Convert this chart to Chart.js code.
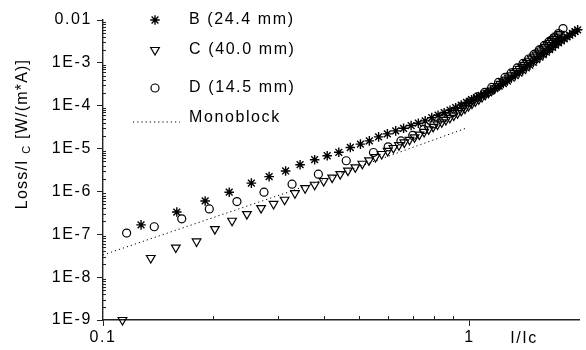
<!DOCTYPE html>
<html>
<head>
<meta charset="utf-8">
<script src="https://cdn.jsdelivr.net/npm/chart.js"></script>
<style>
  html, body { margin: 0; padding: 0; background: #fff; }
  #wrap { width: 586px; height: 350px; }
</style>
</head>
<body>
<div id="wrap"><canvas id="lossChart" width="586" height="350"></canvas></div>
<script>
// sample B (24.4 mm)
const bX = [0.127, 0.159, 0.190, 0.221, 0.254, 0.284, 0.315, 0.345, 0.378, 0.409, 0.440, 0.473, 0.504, 0.533,
  0.565, 0.597, 0.629, 0.661, 0.693, 0.725, 0.757, 0.789, 0.821, 0.853, 0.885, 0.917, 0.949, 0.981, 1.013,
  1.045, 1.077, 1.109, 1.141, 1.173, 1.205, 1.237, 1.269, 1.301, 1.333, 1.365, 1.397, 1.429, 1.461, 1.493,
  1.525, 1.557, 1.589, 1.621, 1.653, 1.685, 1.717, 1.749, 1.781, 1.813, 1.845, 1.877, 1.909, 1.941, 1.973];
const bY = [1.66e-7, 3.3e-7, 6.0e-7, 9.6e-7, 1.56e-6, 2.22e-6, 3.0e-6, 4.2e-6, 5.5e-6, 6.8e-6, 8.2e-6, 1.06e-5, 1.27e-5, 1.51e-5,
  1.87e-5, 2.20e-5, 2.59e-5, 2.97e-5, 3.45e-5, 3.91e-5, 4.43e-5, 5.28e-5, 6.01e-5, 6.87e-5, 7.85e-5, 8.98e-5, 1.03e-4, 1.19e-4, 1.38e-4,
  1.55e-4, 1.75e-4, 1.95e-4, 2.18e-4, 2.49e-4, 2.86e-4, 3.29e-4, 3.77e-4, 4.38e-4, 5.04e-4, 5.78e-4, 6.58e-4, 7.64e-4, 8.83e-4, 1.03e-3,
  1.19e-3, 1.36e-3, 1.56e-3, 1.77e-3, 2.03e-3, 2.30e-3, 2.60e-3, 2.94e-3, 3.27e-3, 3.62e-3, 4.02e-3, 4.43e-3, 4.90e-3, 5.37e-3, 5.91e-3];

// sample C (40.0 mm)
const cX = [0.113, 0.135, 0.158, 0.180, 0.202, 0.225, 0.247, 0.270, 0.292, 0.313, 0.334,
  0.356, 0.378, 0.400, 0.422, 0.444, 0.466, 0.488, 0.510, 0.532, 0.554, 0.576, 0.598, 0.620, 0.642, 0.664,
  0.686, 0.708, 0.730, 0.752, 0.774, 0.796, 0.818, 0.840, 0.862, 0.884, 0.906, 0.928, 0.950, 0.972, 0.994,
  1.016, 1.038, 1.060, 1.082, 1.104, 1.126, 1.148, 1.170, 1.192, 1.214, 1.236, 1.258, 1.280, 1.302, 1.324,
  1.346, 1.368, 1.390, 1.412, 1.434, 1.456, 1.478, 1.500, 1.522, 1.544, 1.566, 1.588, 1.610, 1.632, 1.654,
  1.676, 1.698, 1.720, 1.742, 1.764];
const cY = [1.0e-9, 2.8e-8, 4.9e-8, 6.8e-8, 1.32e-7, 2.07e-7, 2.96e-7, 4.08e-7, 5.1e-7, 6.4e-7, 9.1e-7,
  1.19e-6, 1.43e-6, 1.75e-6, 2.10e-6, 2.53e-6, 3.05e-6, 3.66e-6, 4.43e-6, 5.31e-6, 6.34e-6, 7.48e-6, 8.79e-6, 1.03e-5, 1.20e-5, 1.39e-5,
  1.60e-5, 1.83e-5, 2.12e-5, 2.44e-5, 2.80e-5, 3.21e-5, 3.65e-5, 4.10e-5, 4.65e-5, 5.22e-5, 5.91e-5, 6.68e-5, 7.57e-5, 8.55e-5, 9.79e-5,
  1.12e-4, 1.26e-4, 1.42e-4, 1.60e-4, 1.79e-4, 2.00e-4, 2.24e-4, 2.53e-4, 2.86e-4, 3.22e-4, 3.62e-4, 4.06e-4, 4.54e-4, 5.12e-4, 5.73e-4,
  6.44e-4, 7.21e-4, 8.07e-4, 8.97e-4, 1.00e-3, 1.12e-3, 1.26e-3, 1.40e-3, 1.56e-3, 1.74e-3, 1.94e-3, 2.14e-3, 2.37e-3, 2.64e-3, 2.92e-3,
  3.22e-3, 3.56e-3, 3.93e-3, 4.35e-3, 4.77e-3];

// sample D (14.5 mm)
const dX = [0.116, 0.138, 0.164, 0.195, 0.232, 0.275, 0.328, 0.387, 0.461, 0.547,
  0.60, 0.65, 0.70, 0.75, 0.80, 0.85, 0.90, 0.95, 1.00, 1.05, 1.10, 1.15, 1.20, 1.25, 1.30,
  1.35, 1.40, 1.45, 1.50, 1.55, 1.60, 1.65, 1.70, 1.75, 1.80];
const dY = [1.07e-7, 1.5e-7, 2.3e-7, 3.9e-7, 5.8e-7, 9.6e-7, 1.48e-6, 2.53e-6, 5.2e-6, 8.1e-6,
  1.10e-5, 1.51e-5, 2.03e-5, 2.80e-5, 3.77e-5, 5.20e-5, 6.98e-5, 9.38e-5, 1.23e-4, 1.60e-4, 2.04e-4, 2.67e-4, 3.49e-4, 4.57e-4, 5.82e-4,
  7.60e-4, 9.68e-4, 1.23e-3, 1.57e-3, 2.00e-3, 2.55e-3, 3.16e-3, 3.91e-3, 4.84e-3, 6.3e-3];

// monoblock reference line
const monoX = [0.1, 0.33, 0.98];
const monoY = [3.3e-8, 1.05e-6, 3.0e-5];

// axes
const xMajor = [0.1, 1];
const xMajorLabels = ['0.1', '1'];
const xMinor = [0.2, 0.3, 0.4, 0.5, 0.6, 0.7, 0.8, 0.9, 2];
const yMajor = [1e-9, 1e-8, 1e-7, 1e-6, 1e-5, 1e-4, 1e-3, 1e-2];
const yMajorLabels = ['1E-9', '1E-8', '1E-7', '1E-6', '1E-5', '1E-4', '1E-3', '0.01'];

const FONT = '"Liberation Sans", Arial, sans-serif';
const INK = '#000';

function pts(xs, ys) {
  return xs.map((x, i) => ({ x: x, y: ys[i] }));
}

// minor ticks of the log axis: 2..9 in every decade
const yMinor = [];
for (let i = 0; i < yMajor.length - 1; i++) {
  for (let m = 2; m <= 9; m++) yMinor.push(m * yMajor[i]);
}

const letterSpacing = {
  id: 'letterSpacing',
  beforeDraw(chart) {
    chart.ctx.letterSpacing = '1.6px';
  }
};

// inward minor ticks
const minorTicks = {
  id: 'minorTicks',
  afterDraw(chart) {
    const ctx = chart.ctx, a = chart.chartArea;
    const xs = chart.scales.x, ys = chart.scales.y;
    ctx.save();
    ctx.strokeStyle = '#222';
    ctx.lineWidth = 1;
    ctx.beginPath();
    xs.ticks.forEach(t => {
      if (t.major) return;
      const px = Math.round(xs.getPixelForValue(t.value)) + 0.5;
      if (px >= a.right - 1) return;
      ctx.moveTo(px, a.bottom);
      ctx.lineTo(px, a.bottom - 4);
    });
    ys.ticks.forEach(t => {
      if (t.major) return;
      const py = Math.round(ys.getPixelForValue(t.value)) + 0.5;
      ctx.moveTo(a.left, py);
      ctx.lineTo(a.left + 3, py);
    });
    ctx.stroke();
    ctx.restore();
  }
};

// legend placed inside the plot, plus axis titles
const legendRows = [20, 50, 88, 118];
const decorations = {
  id: 'decorations',
  afterDraw(chart) {
    const ctx = chart.ctx;
    ctx.save();
    ctx.letterSpacing = '1.6px';
    ctx.font = '16px ' + FONT;
    ctx.textBaseline = 'middle';
    ctx.textAlign = 'left';
    chart.data.datasets.forEach((ds, i) => {
      const y = legendRows[i];
      ctx.strokeStyle = INK;
      if (ds.showLine) {
        ctx.save();
        ctx.lineWidth = 1;
        ctx.setLineDash(ds.borderDash);
        ctx.beginPath();
        ctx.moveTo(133, y + 4);
        ctx.lineTo(180, y + 4);
        ctx.stroke();
        ctx.restore();
      } else {
        ctx.lineWidth = ds.pointBorderWidth;
        ctx.fillStyle = 'rgba(0,0,0,0)';
        Chart.helpers.drawPoint(ctx, {
          pointStyle: ds.pointStyle, rotation: ds.rotation || 0,
          radius: ds.pointRadius, borderWidth: ds.pointBorderWidth
        }, 155, y);
      }
      ctx.fillStyle = '#000';
      ctx.fillText(ds.label, 189, y);
    });

    // x title next to the ticks
    ctx.textAlign = 'center';
    ctx.fillText('I/Ic', 524, 339);

    // y title with subscript
    ctx.translate(21, 134);
    ctx.rotate(-Math.PI / 2);
    ctx.letterSpacing = '1.2px';
    ctx.textAlign = 'left';
    ctx.textBaseline = 'alphabetic';
    const main = '16px ' + FONT, sub = '11px ' + FONT;
    ctx.font = main;
    const w1 = ctx.measureText('Loss/I ').width;
    const w3 = ctx.measureText(' [W/(m*A)]').width;
    ctx.font = sub;
    const w2 = ctx.measureText('C').width;
    let x0 = -(w1 + w2 + w3) / 2;
    ctx.font = main;
    ctx.fillText('Loss/I ', x0, 5.5);
    ctx.font = sub;
    ctx.fillText('C', x0 + w1, 9);
    ctx.font = main;
    ctx.fillText(' [W/(m*A)]', x0 + w1 + w2, 5.5);
    ctx.restore();
  }
};

Chart.defaults.font.family = FONT;
Chart.defaults.font.size = 16;
Chart.defaults.color = '#000';

const markerBase = {
  showLine: false,
  backgroundColor: 'rgba(0,0,0,0)',
  borderColor: INK,
  borderWidth: 1.2,
  pointBorderWidth: 1.2,
  clip: false
};

new Chart(document.getElementById('lossChart'), {
  type: 'scatter',
  data: {
    datasets: [
      Object.assign({}, markerBase, { label: 'B (24.4 mm)', data: pts(bX, bY), pointStyle: 'star', pointRadius: 4.8, pointBorderWidth: 1.4 }),
      Object.assign({}, markerBase, { label: 'C (40.0 mm)', data: pts(cX, cY), pointStyle: 'triangle', rotation: 180, pointRadius: 5 }),
      Object.assign({}, markerBase, { label: 'D (14.5 mm)', data: pts(dX, dY), pointStyle: 'circle', pointRadius: 4 }),
      {
        label: 'Monoblock', data: pts(monoX, monoY), showLine: true,
        borderColor: INK, borderWidth: 1, borderDash: [1.2, 3],
        pointRadius: 0, fill: false, tension: 0
      }
    ]
  },
  options: {
    responsive: false,
    animation: false,
    devicePixelRatio: 1,
    layout: { padding: { top: 20, right: 0, left: 0, bottom: 0 } },
    plugins: { legend: { display: false }, tooltip: { enabled: false } },
    scales: {
      x: {
        type: 'logarithmic',
        min: 0.1,
        max: 2,
        afterBuildTicks: s => {
          s.ticks = xMajor.map(v => ({ value: v, major: true }))
            .concat(xMinor.map(v => ({ value: v, major: false })))
            .sort((a, b) => a.value - b.value);
        },
        afterFit: s => { s.height = 30; },
        grid: {
          drawOnChartArea: false,
          drawTicks: true,
          tickLength: 6,
          tickColor: c => (c.tick && c.tick.major) ? '#222' : 'rgba(0,0,0,0)'
        },
        border: { display: true, color: '#222', width: 1.4 },
        ticks: {
          autoSkip: false,
          maxRotation: 0,
          padding: 2,
          callback: v => {
            const i = xMajor.indexOf(v);
            return i >= 0 ? xMajorLabels[i] : '';
          }
        }
      },
      y: {
        type: 'logarithmic',
        min: 1e-9,
        max: 1e-2,
        afterBuildTicks: s => {
          s.ticks = yMajor.map(v => ({ value: v, major: true }))
            .concat(yMinor.map(v => ({ value: v, major: false })))
            .sort((a, b) => a.value - b.value);
        },
        afterFit: s => { s.width = 103; },
        grid: {
          drawOnChartArea: false,
          drawTicks: true,
          tickLength: 6,
          tickColor: c => (c.tick && c.tick.major) ? '#222' : 'rgba(0,0,0,0)'
        },
        border: { display: true, color: '#222', width: 1.4 },
        ticks: {
          autoSkip: false,
          padding: 5,
          callback: v => {
            const i = yMajor.indexOf(v);
            return i >= 0 ? yMajorLabels[i] : '';
          }
        }
      }
    }
  },
  plugins: [letterSpacing, minorTicks, decorations]
});
</script>
</body>
</html>
